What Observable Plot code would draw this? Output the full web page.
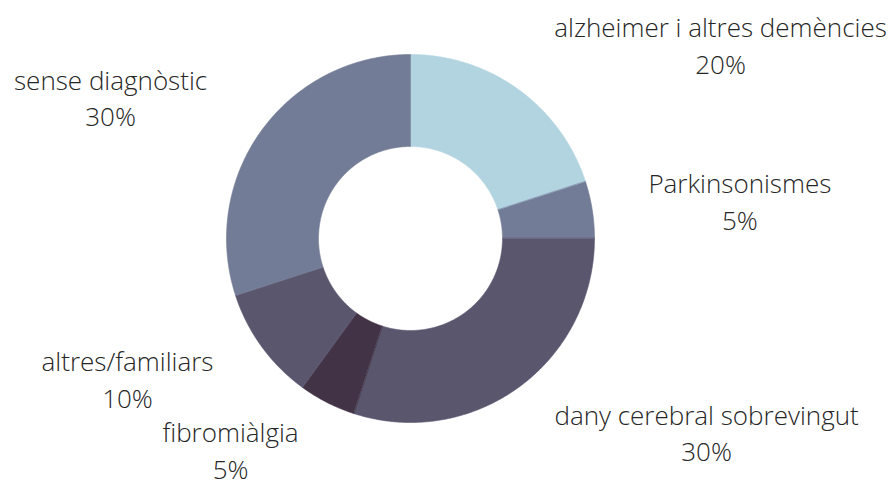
<!DOCTYPE html>
<html>
<head>
<meta charset="utf-8">
<script src="https://cdn.jsdelivr.net/npm/d3@7"></script>
<script src="https://cdn.jsdelivr.net/npm/@observablehq/plot@0.6"></script>
<style>
  html, body { margin: 0; padding: 0; background: #fff; }
  svg { display: block; }
</style>
</head>
<body>
<div id="chart"></div>
<script>
const categories = ["alzheimer i altres demències", "Parkinsonismes", "dany cerebral sobrevingut", "fibromiàlgia", "altres/familiars", "sense diagnòstic"];
const values = [20, 5, 30, 5, 10, 30];
const colors = ["#b2d4e0", "#737c96", "#5a566e", "#433346", "#5a566e", "#737c96"];
// label block centres in chart units (outer radius = 1, centre of donut = 0,0)
const labelX = [1.685, 1.79, 1.609, -0.978, -1.538, -1.63];
const labelY = [1.057, 0.209, -1.047, -1.144, -0.758, 0.774];

const W = 894, H = 482;
const R = 184, cx = 410, cy = 238;
const inner = 0.5;

const total = d3.sum(values);
const points = [];
let acc = 0;
categories.forEach((c, i) => {
  const a0 = acc / total * 2 * Math.PI;
  acc += values[i];
  const a1 = acc / total * 2 * Math.PI;
  const n = Math.max(2, Math.ceil((a1 - a0) / (Math.PI / 360)));
  for (let k = 0; k <= n; k++) {
    const a = a0 + (a1 - a0) * k / n;
    points.push({slice: c, x: Math.sin(a), y: Math.cos(a)});
  }
  for (let k = n; k >= 0; k--) {
    const a = a0 + (a1 - a0) * k / n;
    points.push({slice: c, x: inner * Math.sin(a), y: inner * Math.cos(a)});
  }
});

const labels = categories.map((c, i) => ({text: c + "\n" + values[i] + "%", x: labelX[i], y: labelY[i]}));

const chart = Plot.plot({
  width: W,
  height: H,
  margin: 0,
  style: {fontFamily: "'Open Sans', sans-serif", background: "#fff"},
  x: {domain: [-cx / R, (W - cx) / R], axis: null},
  y: {domain: [-(H - cy) / R, cy / R], axis: null},
  color: {domain: categories, range: colors},
  marks: [
    Plot.line(points, {x: "x", y: "y", z: "slice", fill: "slice", stroke: "slice", strokeWidth: 0.6, curve: "linear-closed"}),
    Plot.text(labels, {x: "x", y: "y", text: "text", fontSize: 26, fontWeight: 300, fill: "#262626", lineHeight: 1.4, textAnchor: "middle"})
  ]
});
document.getElementById("chart").appendChild(chart);
</script>
</body>
</html>
